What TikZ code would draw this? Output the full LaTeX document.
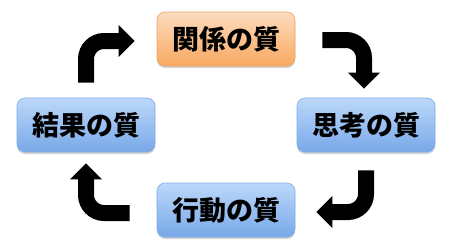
\documentclass[tikz,border=0pt]{standalone}
\usepackage{fontspec}
\newfontfamily\cjk{Noto Sans CJK JP}
\usetikzlibrary{arrows.meta,shadows}
\definecolor{bluetop}{HTML}{BCD8FA}
\definecolor{bluebot}{HTML}{78A8E8}
\definecolor{blueline}{HTML}{7FAEE6}
\definecolor{orgtop}{HTML}{FDDCBE}
\definecolor{orgbot}{HTML}{F8A860}
\definecolor{orgline}{HTML}{E8A468}
\tikzset{
  qbox/.style={rounded corners=8pt, minimum width=138pt, minimum height=54pt,
    font=\cjk\bfseries\fontsize{27}{27}\selectfont, text=black,
    drop shadow={opacity=0.35, shadow xshift=0pt, shadow yshift=-2pt},
    line width=0.6pt, inner sep=0pt},
  bluebox/.style={qbox, draw=blueline, top color=bluetop, bottom color=bluebot},
  orgbox/.style={qbox, draw=orgline, top color=orgtop, bottom color=orgbot},
  bigarrow/.style={line width=16pt, rounded corners=18pt,
    -{Triangle[length=16pt, width=31pt]}}
}
\begin{document}
\begin{tikzpicture}[x=1pt, y=-1pt]
\useasboundingbox (0,0) rectangle (454,244);
\node[orgbox]  (T) at (226,39)  {関係の質};
\node[bluebox] (R) at (366,125) {思考の質};
\node[bluebox] (B) at (226,210) {行動の質};
\node[bluebox] (L) at (86,125)  {結果の質};
\draw[bigarrow] ([yshift=15pt]L.north) |- ([xshift=-22pt,yshift=-2pt]T.west);
\draw[bigarrow] ([xshift=27pt,yshift=-1pt]T.east) -| ([xshift=-2pt,yshift=9pt]R.north);
\draw[bigarrow] ([yshift=-18pt]R.south) |- ([xshift=21pt,yshift=-2pt]B.east);
\draw[bigarrow] ([xshift=-27pt,yshift=-3pt]B.west) -| ([yshift=-11pt]L.south);
\end{tikzpicture}
\end{document}
